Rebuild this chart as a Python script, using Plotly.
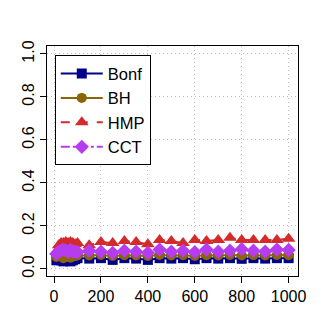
import plotly.graph_objects as go

x_vals = [10, 20, 30, 40, 50, 60, 70, 80, 90, 100, 150, 200, 250, 300, 350, 400, 450, 500,
          550, 600, 650, 700, 750, 800, 850, 900, 950, 1000]

bonf = [0.040, 0.045, 0.040, 0.035, 0.040, 0.045, 0.035, 0.040, 0.045, 0.050,
        0.048, 0.050, 0.042, 0.050, 0.048, 0.042, 0.050, 0.048, 0.050, 0.045,
        0.050, 0.048, 0.050, 0.047, 0.050, 0.048, 0.050, 0.050]
bh = [0.055, 0.060, 0.058, 0.050, 0.058, 0.062, 0.052, 0.058, 0.060, 0.062,
      0.062, 0.065, 0.060, 0.064, 0.062, 0.060, 0.065, 0.062, 0.064, 0.060,
      0.064, 0.062, 0.065, 0.062, 0.064, 0.062, 0.065, 0.064]
hmp = [0.080, 0.110, 0.120, 0.120, 0.125, 0.120, 0.125, 0.120, 0.115, 0.120,
       0.110, 0.125, 0.120, 0.130, 0.125, 0.115, 0.135, 0.130, 0.120, 0.135,
       0.130, 0.135, 0.145, 0.135, 0.135, 0.135, 0.135, 0.140]
cct = [0.070, 0.080, 0.085, 0.090, 0.085, 0.080, 0.088, 0.082, 0.080, 0.078,
       0.085, 0.080, 0.075, 0.085, 0.080, 0.075, 0.090, 0.080, 0.085, 0.078,
       0.090, 0.080, 0.085, 0.092, 0.085, 0.080, 0.090, 0.088]

series = [
    ("Bonf", bonf, "#00008B", "solid", "square", 10),
    ("BH", bh, "#8B6508", "solid", "circle", 10),
    ("HMP", hmp, "#D42A2A", "dash", "triangle-up", 12),
    ("CCT", cct, "#B63CF0", "dashdot", "diamond", 11),
]

fig = go.Figure()
for name, ys, color, dash, symbol, size in series:
    fig.add_trace(go.Scatter(
        x=x_vals, y=ys, name=name, mode="lines+markers",
        line=dict(color=color, width=2, dash=dash),
        marker=dict(symbol=symbol, size=size, color=color),
    ))

font = dict(family="Liberation Sans, Arial, sans-serif", size=16, color="black")
grid_dash = "1px,3px"

# the page body adds an 8px margin on the top/left, so the figure is drawn 8px smaller
fig.update_layout(
    width=313, height=326,
    margin=dict(l=35, r=23, t=38, b=58),
    paper_bgcolor="white", plot_bgcolor="white",
    font=font,
    showlegend=True,
    legend=dict(
        x=0.031, y=0.96, xanchor="left", yanchor="top",
        bordercolor="black", borderwidth=1, bgcolor="white",
        font=dict(family="Liberation Sans, Arial, sans-serif", size=16.5, color="black"),
        tracegroupgap=0, itemwidth=42,
    ),
    xaxis=dict(
        range=[-30, 1040], tickvals=[0, 200, 400, 600, 800, 1000],
        showgrid=True, gridcolor="#BEBEBE", griddash=grid_dash, gridwidth=1,
        showline=True, linecolor="black", linewidth=1, mirror=True,
        ticks="outside", ticklen=6, tickcolor="black", zeroline=False,
        tickfont=font,
    ),
    yaxis=dict(
        range=[-0.033, 1.037], tickvals=[0, 0.2, 0.4, 0.6, 0.8, 1.0],
        ticktext=["0.0", "0.2", "0.4", "0.6", "0.8", "1.0"],
        showgrid=True, gridcolor="#BEBEBE", griddash=grid_dash, gridwidth=1,
        showline=True, linecolor="black", linewidth=1, mirror=True,
        ticks="outside", ticklen=6, tickcolor="black", zeroline=False,
        tickangle=-90, tickfont=font,
    ),
)

fig.write_html("out.html")
